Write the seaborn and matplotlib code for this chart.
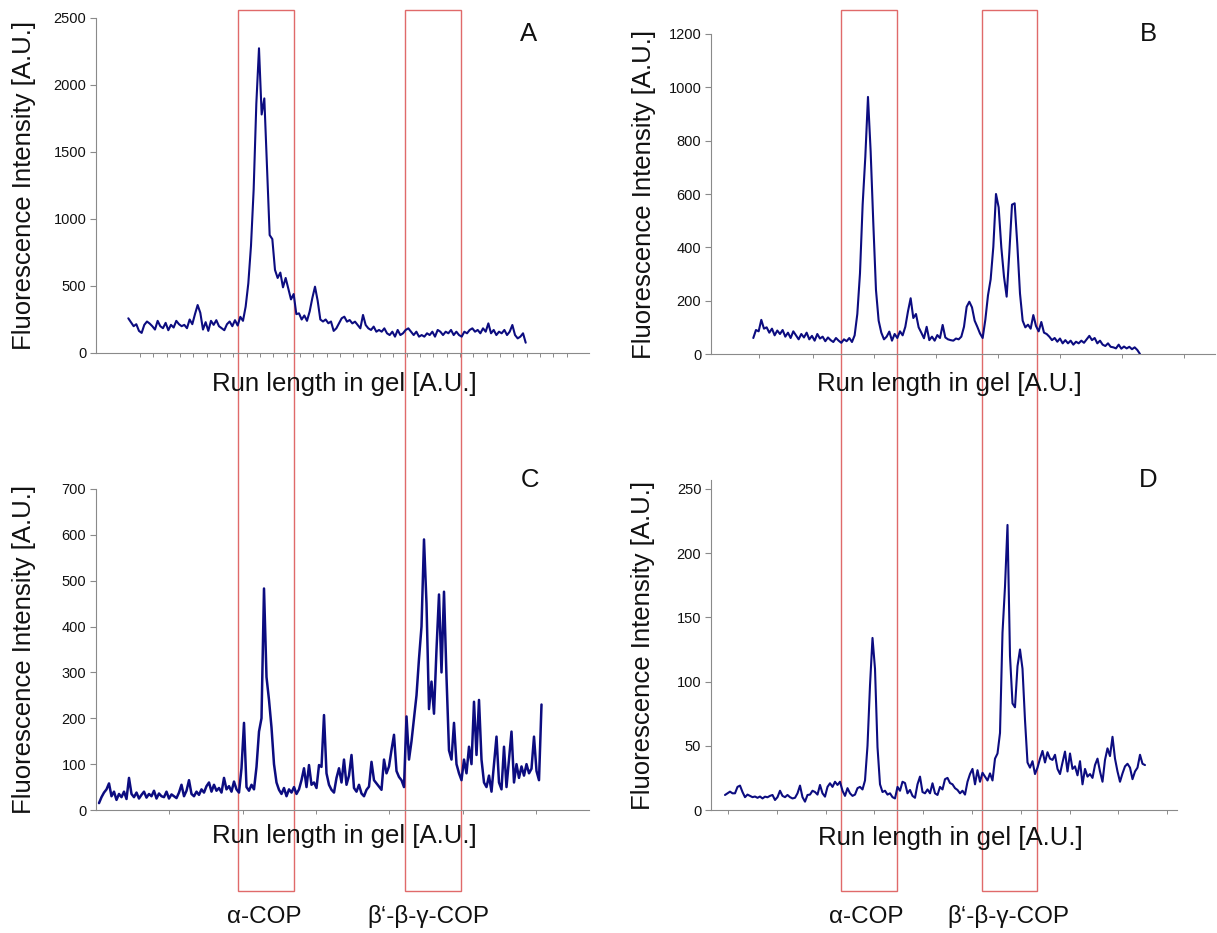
import numpy as np
import pandas as pd
import matplotlib
matplotlib.use("Agg")
import matplotlib.pyplot as plt
from matplotlib.patches import Rectangle
import seaborn as sns

# ---------------- data ----------------
intensity_A = [
    259, 230, 200, 215, 165, 150, 210, 235, 220, 200,
    175, 240, 200, 185, 225, 170, 210, 190, 240, 215,
    200, 210, 185, 250, 215, 290, 358, 300, 175, 230,
    165, 240, 210, 245, 200, 185, 170, 215, 235, 200,
    245, 205, 270,
    240, 346, 520, 800, 1220, 1860, 2274, 1780, 1900, 1380,
    880, 850, 620, 560, 600, 490, 560, 480, 400, 440,
    290, 296, 250, 280, 240, 310, 410, 495, 390, 250,
    235, 250, 222, 235, 165,
    184, 221, 259, 271, 234, 246, 221, 234, 209, 184,
    284, 209, 184, 172, 197, 159, 172, 159, 184, 147,
    134, 159, 122, 172, 134, 147, 172, 184, 159, 134,
    159, 122, 134, 122, 147, 134, 159, 122, 172, 159,
    134, 159, 147, 172, 134, 159, 134, 122, 159, 147,
    172, 184, 159, 172, 147, 184, 159, 221, 147, 172,
    134, 159, 147, 172, 134, 159, 209, 134, 109, 122,
    147, 77,
]

intensity_B = [
    60, 90, 85, 128, 95, 100, 80, 95, 70, 88,
    75, 90, 65, 80, 60, 85, 70, 55, 75, 62,
    80, 55, 68, 50, 75, 58, 65, 48, 62, 52,
    45, 60, 50, 42, 55, 48, 60, 45, 70, 150,
    302, 560, 739, 964, 760, 490, 240, 125, 80, 55,
    65, 84, 50, 75, 60, 85, 70, 102, 160, 209,
    135, 150, 100, 80, 59, 102, 52, 65, 50, 71,
    60, 109, 62, 55, 52, 50, 58, 55, 65, 102,
    177, 196, 175, 125, 102, 77, 60, 128, 220, 280,
    402, 600, 550, 400, 290, 215, 380, 560, 565, 410,
    227, 125, 100, 110, 95, 146, 105, 85, 120, 80,
    75, 65, 52, 60, 46, 58, 40, 52, 40, 50,
    35, 46, 40, 50, 42, 55, 68, 52, 60, 40,
    50, 35, 30, 40, 27, 25, 21, 35, 20, 28,
    21, 27, 18, 25, 15, 0,
]

intensity_C = [
    15, 28, 38, 45, 58, 30, 40, 22, 35, 28,
    40, 24, 70, 35, 28, 38, 25, 33, 40, 27,
    35, 30, 42, 25, 36, 30, 28, 40, 25, 34,
    30, 26, 38, 55, 30, 42, 65, 35, 30, 40,
    33, 45, 38, 52, 60, 40, 55, 42, 48, 38,
    70, 45, 52, 40, 62, 45,
    38, 91, 190, 50, 42, 55, 45, 94, 171, 200,
    483, 290, 240, 180, 100, 60, 44, 35, 48, 30,
    45, 38, 50, 35, 45, 65,
    91, 50, 98, 55, 60, 48, 98,
    94, 207, 80, 55, 44, 38, 70, 91, 60, 110,
    55, 75, 120, 48, 40, 55, 36, 30, 44, 51,
    105, 65, 58, 51, 44, 110, 80, 95, 131, 164,
    85, 72, 65, 50, 204, 110, 150, 200, 250, 330,
    400, 590, 450, 220, 280, 210, 350, 470, 300, 476,
    290, 130, 110, 190, 100, 80, 65, 110, 80, 138,
    100, 236, 120, 240, 110, 60, 50, 75, 40, 100,
    160, 60, 45, 138, 50, 110, 171, 60, 100, 70,
    95, 75, 100, 80, 90, 160, 85, 65, 230,
]

intensity_D = [
    11.7, 13, 14.3, 13, 13, 18, 19, 14, 10, 12,
    11, 10, 10.5, 9.5, 10.5, 9, 10.4, 9.9, 11, 11.7,
    7.8, 10, 15, 11, 10, 11.7, 10, 9, 9.5, 13,
    19, 10, 6.5, 11.7, 12, 15, 14, 12, 19.5, 13,
    10.4, 18, 20.8, 18, 22, 19.5, 22, 15, 11, 17,
    13, 11, 12, 17, 18, 16, 23, 50, 97, 134,
    110, 49, 20, 14, 15, 12, 13, 10, 9, 18,
    15, 22, 21, 13, 15.6, 11, 9.5, 20, 26, 14,
    13, 16, 13, 20.8, 13, 11.7, 18, 16, 24, 25,
    21, 20, 17, 15.6, 13, 15, 12, 22, 28, 32,
    20, 31, 22, 29, 26, 23, 28.5, 23, 40, 44,
    60, 138, 174, 222, 120, 83, 80, 112, 125, 110,
    70, 37, 33, 38, 28, 33, 40, 46, 37, 45,
    40, 39, 43, 32, 28, 37, 45.5, 30, 44, 32,
    34, 27, 38, 20, 32, 26, 28, 25, 35, 40,
    30, 22, 39, 48, 42, 57, 40, 30, 22, 28.5,
    34, 36, 33, 24, 30, 33, 43, 36, 35,
]

yticks_A = [0, 500, 1000, 1500, 2000, 2500]
yticks_B = [0, 200, 400, 600, 800, 1000, 1200]
yticks_C = [0, 100, 200, 300, 400, 500, 600, 700]
yticks_D = [0, 50, 100, 150, 200, 250]

panel_letters = ["A", "B", "C", "D"]
y_title = "Fluorescence Intensity [A.U.]"
x_title = "Run length in gel [A.U.]"
band_labels = ["\u03b1-COP", "\u03b2\u2018-\u03b2-\u03b3-COP"]

# ---------------- style ----------------
sns.set_theme(style="white")
plt.rcParams["font.family"] = ["Liberation Sans", "DejaVu Sans"]

W, H = 1217, 933
fig = plt.figure(figsize=(W / 100, H / 100), dpi=100)
fig.patch.set_facecolor("white")

LINE = "#0c0c80"
GRAY = "#8a8a8a"
BOX = "#e06a6a"
TXT = "#111111"

panels = [
    dict(y=intensity_A, yt=yticks_A, ytop=2500, L=96, R=589, top=18, bottom=353,
         s=128.3, e=525.7, ticks=[140 + 13.33 * k for k in range(33)], lw=1.5,
         letter=(529, 34), ylab=-0.122, xlab=(0.503, -0.057)),
    dict(y=intensity_B, yt=yticks_B, ytop=1200, L=711, R=1215, top=34, bottom=354,
         s=753.3, e=1140.0, ticks=[759, 812.5] + [874 + 62 * k for k in range(6)], lw=1.5,
         letter=(1148, 34), ylab=-0.11, xlab=(0.472, -0.056)),
    dict(y=intensity_C, yt=yticks_C, ytop=700, L=96, R=589, top=489, bottom=810,
         s=99.0, e=541.5, ticks=[96 + 73.3 * k for k in range(1, 7)], lw=1.8,
         letter=(530, 480), ylab=-0.122, xlab=(0.503, -0.044)),
    dict(y=intensity_D, yt=yticks_D, ytop=257, L=711, R=1177, top=480, bottom=810,
         s=725.0, e=1145.0, ticks=[728 + 48.8 * k for k in range(10)], lw=1.5,
         letter=(1148, 480), ylab=-0.12, xlab=(0.513, -0.047)),
]

for p, letter in zip(panels, panel_letters):
    L, R, top, bottom = p["L"], p["R"], p["top"], p["bottom"]
    ax = fig.add_axes([L / W, 1 - bottom / H, (R - L) / W, (bottom - top) / H])
    ax.patch.set_alpha(0)
    y = p["y"]
    n = len(y)
    d = (p["e"] - p["s"]) / (n - 1)
    df = pd.DataFrame({"run": np.arange(n), "intensity": y})
    sns.lineplot(data=df, x="run", y="intensity", ax=ax, color=LINE,
                 linewidth=p["lw"], estimator=None)
    ax.set_xlim(-(p["s"] - L) / d, (n - 1) + (R - p["e"]) / d)
    ax.set_ylim(0, p["ytop"])
    ax.set_yticks(p["yt"])
    ax.set_yticklabels([str(v) for v in p["yt"]])
    ax.set_xticks([(t - p["s"]) / d for t in p["ticks"]])
    ax.set_xticklabels([])
    for side in ("top", "right"):
        ax.spines[side].set_visible(False)
    for side in ("left", "bottom"):
        ax.spines[side].set_color(GRAY)
        ax.spines[side].set_linewidth(0.8)
    ax.tick_params(axis="y", direction="out", length=4, width=0.8, color=GRAY,
                   labelsize=10.5, pad=3, labelcolor=TXT, left=True)
    ax.tick_params(axis="x", direction="out", length=3, width=0.7, color=GRAY,
                   bottom=True)
    ax.set_ylabel(y_title, fontsize=18.5, color=TXT)
    ax.yaxis.set_label_coords(p["ylab"], 0.5)
    ax.set_xlabel(x_title, fontsize=18.5, color=TXT)
    ax.xaxis.set_label_coords(*p["xlab"])
    ax.grid(False)
    lx, ly = p["letter"]
    fig.text(lx / W, 1 - ly / H, letter, ha="center", va="center",
             fontsize=18.5, color=TXT)

# red band boxes spanning both rows
for x0, x1 in [(238, 294), (405, 461), (841, 897), (982, 1037)]:
    fig.add_artist(Rectangle((x0 / W, (H - 891) / H), (x1 - x0) / W, (891 - 10) / H,
                             transform=fig.transFigure, fill=False, ec=BOX,
                             lw=1.0, zorder=-1))

for cx, lab in [(264, band_labels[0]), (428, band_labels[1]),
                (866, band_labels[0]), (1008, band_labels[1])]:
    fig.text(cx / W, 1 - 917 / H, lab, ha="center", va="center",
             fontsize=17.5, color=TXT)

fig.savefig("out.png", dpi=100)
